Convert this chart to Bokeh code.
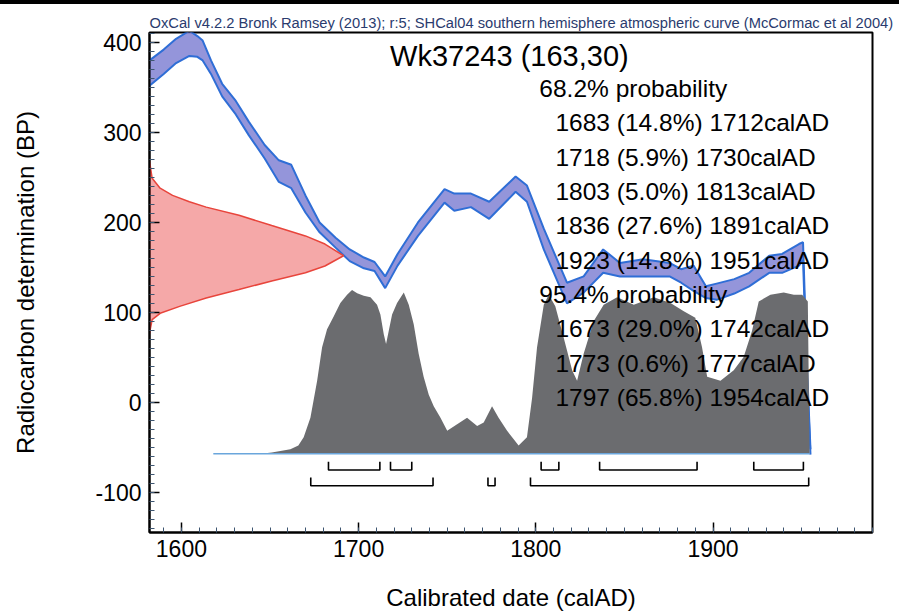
from bokeh.plotting import figure
from bokeh.models import Range1d, SingleIntervalTicker, Div, PrintfTickFormatter
from bokeh.layouts import column
from bokeh.embed import file_html
from bokeh.resources import INLINE
from bokeh.core.properties import value

HEADER = ("OxCal v4.2.2 Bronk Ramsey (2013); r:5; SHCal04 southern hemisphere "
          "atmospheric curve (McCormac et al 2004)")
SAMPLE = "Wk37243 (163,30)"
X_LABEL = "Calibrated date (calAD)"
Y_LABEL = "Radiocarbon determination (BP)"

# Calibration curve band (SHCal04)
cal_year = [1582, 1590, 1597, 1604.5, 1609, 1612, 1616.7, 1623, 1630.7, 1638, 1647,
            1655, 1662, 1670, 1678, 1687, 1695, 1703, 1709, 1715, 1722, 1733.5,
            1748.5, 1754, 1763.4, 1773.7, 1788.6, 1795, 1804.5, 1817.6, 1827, 1838,
            1847.5, 1860.6, 1875.5, 1882, 1889, 1896, 1902, 1912, 1920.4, 1931.7,
            1939, 1948.5, 1950.8, 1953, 1955]
cal_upper = [380, 392, 404, 413, 407, 402, 380, 354, 335, 312, 286,
             269, 264, 230, 200, 183, 170, 161, 156, 140, 165, 200,
             237, 232, 232, 223, 251, 241, 193, 133, 140, 170,
             155, 159, 155, 148, 152, 129, 132, 137, 144, 163,
             165, 176, 178, 40, -52]
cal_lower = [352, 365, 377, 385, 384, 380, 365, 340, 320, 297, 271,
             245, 238, 211, 189, 172, 157, 149, 146, 127, 152, 185,
             222, 213, 217, 204, 234, 223, 170, 110, 122, 144,
             140, 140, 140, 133, 124, 116, 114, 121, 129, 144,
             144, 152, 158, 30, -58]

red_bp = [268, 249, 238, 230, 223, 217, 208, 196.5, 185, 176, 163,
          151.6, 144, 135, 125.4, 116, 106.7, 99, 92, 80, 76]
red_width = [0, 1.5, 6, 13, 22.5, 32, 50.5, 69, 88, 99, 109.5,
             99, 88, 69, 50.5, 32, 17, 6, 1.5, 0.3, 0]

# Calibrated probability distribution (relative)
post_year = [1645, 1651, 1661.5, 1666, 1669, 1672.8, 1676.6, 1679.4, 1682.2, 1686,
             1689.7, 1693.5, 1696.3, 1699.2, 1702.9, 1706.7, 1710.4, 1712.3, 1714.2,
             1715.5, 1717, 1718.9, 1721.7, 1725.5, 1728.3, 1731.1, 1733.9, 1736.7,
             1739.6, 1742.4, 1746.2, 1750, 1755.6, 1761.2, 1766.9, 1770.6, 1775.3,
             1779, 1783.8, 1790.3, 1795, 1797.9, 1800.7, 1804.5, 1807.3, 1811,
             1815.7, 1820.5, 1823.3, 1827, 1832.7, 1838.3, 1845.9, 1855.3, 1866.6,
             1876, 1883.5, 1890, 1893.8, 1896.7, 1904.2, 1911.7, 1917.3, 1922,
             1925.8, 1932.4, 1939.9, 1945.6, 1950.3, 1953.5, 1954.5]
post_rel = [0, 0.008, 0.027, 0.05, 0.10, 0.22, 0.445, 0.65, 0.76, 0.84,
            0.92, 0.97, 1.0, 0.98, 0.965, 0.955, 0.91, 0.85, 0.73,
            0.67, 0.75, 0.85, 0.92, 0.985, 0.91, 0.79, 0.61, 0.47,
            0.36, 0.29, 0.22, 0.14, 0.18, 0.22, 0.17, 0.19, 0.29,
            0.22, 0.14, 0.05, 0.10, 0.34, 0.65, 0.91, 0.97, 0.90,
            0.71, 0.51, 0.445, 0.61, 0.81, 0.91, 0.955, 0.91, 0.955,
            0.92, 0.87, 0.83, 0.65, 0.47, 0.445, 0.51, 0.59, 0.75,
            0.93, 0.97, 0.985, 0.97, 0.97, 0.93, 0]

# Calibrated ranges
range68_from = [1683, 1718, 1803, 1836, 1923]
range68_to = [1712, 1730, 1813, 1891, 1951]
range68_pct = [14.8, 5.9, 5.0, 27.6, 14.8]
range95_from = [1673, 1773, 1797]
range95_to = [1742, 1777, 1954]
range95_pct = [29.0, 0.6, 65.8]

FONT = "Liberation Sans"

X0, X1 = 1582, 1990
Y0, Y1 = -144.5, 411

p = figure(frame_width=723, frame_height=500,
           x_range=Range1d(X0, X1), y_range=Range1d(Y0, Y1),
           min_border_left=149, min_border_right=21, min_border_top=28,
           min_border_bottom=79, output_backend="svg", toolbar_location=None,
           title=HEADER, margin=0)
p.title.text_font = FONT
p.title.text_font_size = "14.7px"
p.title.text_font_style = "normal"
p.title.text_color = "#2a3b6e"
p.title.align = "left"
p.title.standoff = 3
p.grid.visible = False
p.background_fill_color = "white"
p.outline_line_color = "black"
p.outline_line_width = 2
p.outline_line_alpha = 1

# calibration curve
p.varea(x=cal_year, y1=cal_lower, y2=cal_upper, fill_color="#8183d4", fill_alpha=0.85)
p.line(cal_year, cal_upper, line_color="#2f6ed6", line_width=2)
p.line(cal_year, cal_lower, line_color="#2f6ed6", line_width=2)

# radiocarbon measurement distribution
red_x = [X0 + w for w in red_width]
p.patch(red_x, red_bp, fill_color="#f07a7a", fill_alpha=0.65,
        line_color="#e8453c", line_width=1.5)

# posterior distribution
BASE = -57
PEAK = 182
post_y = [BASE + r * PEAK for r in post_rel]
p.varea(x=post_year, y1=[BASE] * len(post_year), y2=post_y, fill_color="#6b6c6f")
p.line([1618, post_year[-1]], [BASE, BASE], line_color="#6aa6dc", line_width=1.5)

# range brackets
def brackets(starts, ends, ybar, ytop):
    xs, ys = [], []
    for a, b in zip(starts, ends):
        xs.append([a, a, b, b])
        ys.append([ytop, ybar, ybar, ytop])
    p.multi_line(xs, ys, line_color="black", line_width=1.6)

brackets(range68_from, range68_to, -75, -66)
brackets(range95_from, range95_to, -92.5, -83.5)

# texts
px_y = 0.9  # pixels per BP unit
p.text(x=[1785.1], y=[385.2], text=[SAMPLE], text_font=value(FONT),
       text_font_size="29px", text_align="center", text_baseline="middle",
       text_color="black")

lines, xs, ys = [], [], []
hx = 1802.0
ix = 1811.1
y = 348.6
step = 34.3 / px_y
lines.append("68.2% probability"); xs.append(hx); ys.append(y)
for a, pc, b in zip(range68_from, range68_pct, range68_to):
    y -= step
    lines.append(f"{a} ({pc:.1f}%) {b}calAD"); xs.append(ix); ys.append(y)
y -= step
lines.append("95.4% probability"); xs.append(hx); ys.append(y)
for a, pc, b in zip(range95_from, range95_pct, range95_to):
    y -= step
    lines.append(f"{a} ({pc:.1f}%) {b}calAD"); xs.append(ix); ys.append(y)
p.text(x=xs, y=ys, text=lines, text_font=value(FONT), text_font_size="24.5px",
       text_align="left", text_baseline="middle", text_color="black")

# axes
p.xaxis.ticker = SingleIntervalTicker(interval=100, num_minor_ticks=10)
p.yaxis.ticker = SingleIntervalTicker(interval=100, num_minor_ticks=10)
p.xaxis.formatter = PrintfTickFormatter(format="%d")
p.yaxis.formatter = PrintfTickFormatter(format="%d")
p.xaxis.axis_label = X_LABEL
p.yaxis.axis_label = Y_LABEL
for ax in (p.xaxis, p.yaxis):
    ax.axis_line_width = 2
    ax.axis_line_color = "black"
    ax.major_tick_in = 10
    ax.major_tick_out = 0
    ax.minor_tick_in = 5
    ax.minor_tick_out = 0
    ax.major_tick_line_width = 1.5
    ax.major_tick_line_color = "black"
    ax.minor_tick_line_color = "#3d5570"
    ax.major_label_text_font = FONT
    ax.major_label_text_font_size = "23px"
    ax.major_label_text_color = "black"
    ax.axis_label_text_font = FONT
    ax.axis_label_text_font_size = "24px"
    ax.axis_label_text_font_style = "normal"
    ax.axis_label_text_color = "black"
p.xaxis.major_label_standoff = 7
p.xaxis.axis_label_standoff = 24
p.yaxis.major_label_standoff = 8
p.yaxis.axis_label_standoff = 53

bar = Div(text="", width=899, height=4, margin=0,
          styles={"background-color": "black"})
layout = column(bar, p, spacing=0, margin=0)

open("out.html", "w").write(file_html(layout, INLINE))
